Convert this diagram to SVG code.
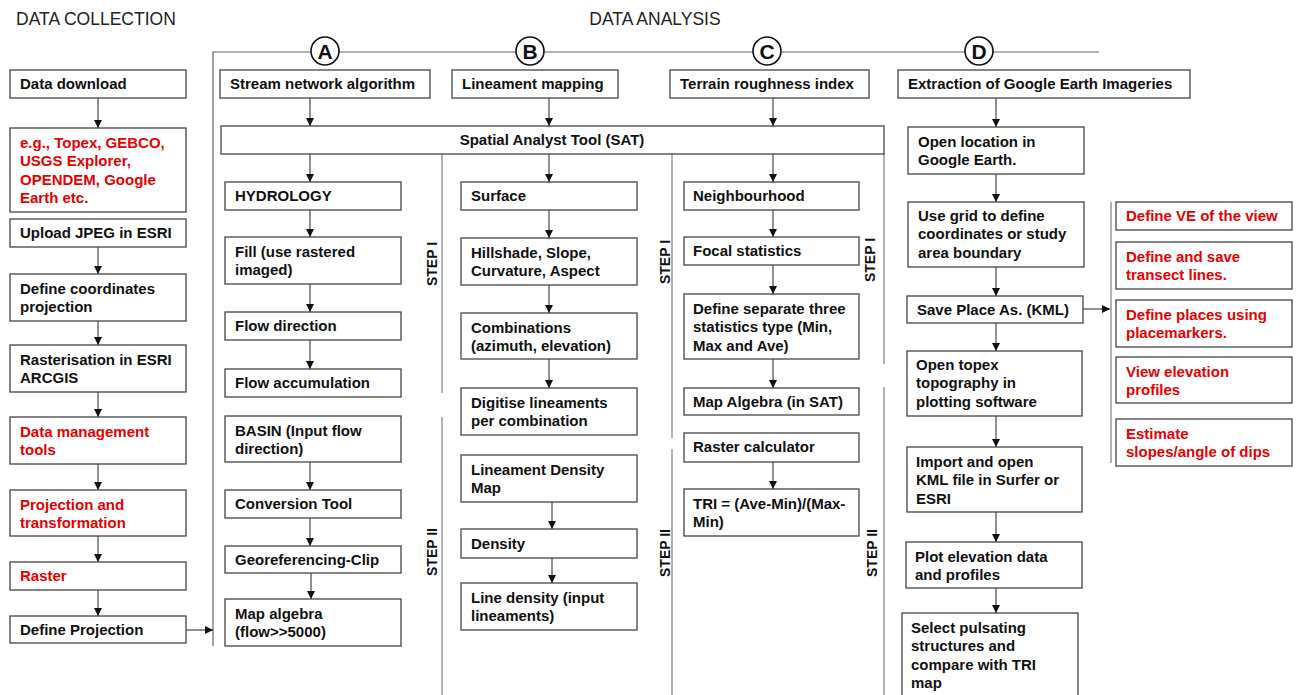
<svg xmlns="http://www.w3.org/2000/svg" width="1301" height="695" viewBox="0 0 1301 695">
<defs>
<marker id="ah" markerUnits="userSpaceOnUse" markerWidth="8" markerHeight="8" refX="8" refY="4" orient="auto">
<path d="M0,0 L8,4 L0,8 z" fill="#111"/>
</marker>
<style>
.box{fill:#fff;stroke:#444;stroke-width:1.3}
.t{font-family:"Liberation Sans",Arial,sans-serif;font-weight:bold;font-size:15px;fill:#111}
.r{fill:#e60000}
.h{font-family:"Liberation Sans",Arial,sans-serif;font-size:17.5px;fill:#222}
.a{stroke:#222;stroke-width:1;fill:none;marker-end:url(#ah)}
.dv{stroke:#999;stroke-width:1.5;fill:none}
.frame{stroke:#666;stroke-width:1.2;fill:none}
.st{font-family:"Liberation Sans",Arial,sans-serif;font-weight:bold;font-size:14px;fill:#111}
.cl{fill:#fff;stroke:#111;stroke-width:1.6}
.cll{font-family:"Liberation Sans",Arial,sans-serif;font-weight:bold;font-size:21px;fill:#111}
</style>
</defs>
<rect width="1301" height="695" fill="#fff"/>

<g id="headers">
<text class="h" x="16" y="25">DATA COLLECTION</text>
<text class="h" x="655" y="25" text-anchor="middle">DATA ANALYSIS</text>
</g>

<g id="frame">
<path class="frame" d="M213,646 L213,52 L1099,52"/>
<path class="dv" d="M442,154 V393 M442,417 V695"/>
<path class="dv" d="M672,154 V438 M672,449 V695"/>
<path class="dv" d="M884,154 V364 M884,387 V695"/>
<path class="dv" d="M1111,202 V463"/>
</g>

<g id="circles">
<circle class="cl" cx="325" cy="51" r="14"/><text class="cll" x="325" y="58.5" text-anchor="middle">A</text>
<circle class="cl" cx="530" cy="51" r="14"/><text class="cll" x="530" y="58.5" text-anchor="middle">B</text>
<circle class="cl" cx="767" cy="51" r="14"/><text class="cll" x="767" y="58.5" text-anchor="middle">C</text>
<circle class="cl" cx="979" cy="51" r="14"/><text class="cll" x="979" y="58.5" text-anchor="middle">D</text>
</g>

<g id="steps">
<text class="st" transform="translate(432,264) rotate(-90)" x="0" y="5" text-anchor="middle">STEP I</text>
<text class="st" transform="translate(432,552) rotate(-90)" x="0" y="5" text-anchor="middle">STEP II</text>
<text class="st" transform="translate(665,262) rotate(-90)" x="0" y="5" text-anchor="middle">STEP I</text>
<text class="st" transform="translate(665,553) rotate(-90)" x="0" y="5" text-anchor="middle">STEP II</text>
<text class="st" transform="translate(870,260) rotate(-90)" x="0" y="5" text-anchor="middle">STEP I</text>
<text class="st" transform="translate(872,553) rotate(-90)" x="0" y="5" text-anchor="middle">STEP II</text>
</g>

<g id="connectors">
<path class="a" d="M98,98 V128"/>
<path class="a" d="M98,247 V274"/>
<path class="a" d="M98,321 V345"/>
<path class="a" d="M98,392 V417"/>
<path class="a" d="M98,464 V490"/>
<path class="a" d="M98,536 V562"/>
<path class="a" d="M98,590 V616"/>
<path class="a" d="M186,630 H213"/>
<path class="a" d="M310,98 V126"/>
<path class="a" d="M310,154 V182"/>
<path class="a" d="M310,210 V237"/>
<path class="a" d="M310,284 V312"/>
<path class="a" d="M310,340 V369"/>
<path class="a" d="M310,462 V490"/>
<path class="a" d="M310,518 V546"/>
<path class="a" d="M311,573 V599"/>
<path class="a" d="M549,98 V126"/>
<path class="a" d="M549,154 V182"/>
<path class="a" d="M549,210 V238"/>
<path class="a" d="M549,285 V313"/>
<path class="a" d="M549,359 V388"/>
<path class="a" d="M552,502 V529"/>
<path class="a" d="M552,558 V583"/>
<path class="a" d="M773,98 V126"/>
<path class="a" d="M773,154 V182"/>
<path class="a" d="M773,210 V237"/>
<path class="a" d="M773,265 V294"/>
<path class="a" d="M773,359 V388"/>
<path class="a" d="M773,462 V489"/>
<path class="a" d="M996,98 V127"/>
<path class="a" d="M996,174 V202"/>
<path class="a" d="M996,267 V296"/>
<path class="a" d="M996,323 V351"/>
<path class="a" d="M996,416 V447"/>
<path class="a" d="M996,512 V542"/>
<path class="a" d="M996,588 V613"/>
<path class="a" d="M1083,309 H1110"/>
</g>

<!-- Data collection column -->
<g id="n-download"><rect class="box" x="10" y="70" width="176" height="28"/><text class="t" x="20" y="89">Data download</text></g>
<g id="n-sources"><rect class="box" x="10" y="128" width="176" height="84"/><text class="t r" x="20" y="148">e.g., Topex, GEBCO,<tspan x="20" dy="18.3">USGS Explorer,</tspan><tspan x="20" dy="18.3">OPENDEM, Google</tspan><tspan x="20" dy="18.3">Earth etc.</tspan></text></g>
<g id="n-upload"><rect class="box" x="10" y="219" width="176" height="28"/><text class="t" x="20" y="238">Upload JPEG in ESRI</text></g>
<g id="n-defcoord"><rect class="box" x="10" y="274" width="176" height="47"/><text class="t" x="20" y="294">Define coordinates<tspan x="20" dy="18.3">projection</tspan></text></g>
<g id="n-raster1"><rect class="box" x="10" y="345" width="176" height="47"/><text class="t" x="20" y="365">Rasterisation in ESRI<tspan x="20" dy="18.3">ARCGIS</tspan></text></g>
<g id="n-dm"><rect class="box" x="10" y="417" width="176" height="47"/><text class="t r" x="20" y="437">Data management<tspan x="20" dy="18.3">tools</tspan></text></g>
<g id="n-proj"><rect class="box" x="10" y="490" width="176" height="46"/><text class="t r" x="20" y="510">Projection and<tspan x="20" dy="18.3">transformation</tspan></text></g>
<g id="n-raster"><rect class="box" x="10" y="562" width="176" height="28"/><text class="t r" x="20" y="581">Raster</text></g>
<g id="n-defproj"><rect class="box" x="10" y="616" width="176" height="27"/><text class="t" x="20" y="635">Define Projection</text></g>

<!-- Column A -->
<g id="n-stream"><rect class="box" x="220" y="70" width="210" height="28"/><text class="t" x="230" y="89">Stream network algorithm</text></g>
<g id="n-sat"><rect class="box" x="221" y="126" width="663" height="28"/><text class="t" x="552" y="145" text-anchor="middle">Spatial Analyst Tool (SAT)</text></g>
<g id="n-hydro"><rect class="box" x="225" y="182" width="176" height="28"/><text class="t" x="235" y="201">HYDROLOGY</text></g>
<g id="n-fill"><rect class="box" x="225" y="237" width="176" height="47"/><text class="t" x="235" y="257">Fill (use rastered<tspan x="235" dy="18.3">imaged)</tspan></text></g>
<g id="n-flowdir"><rect class="box" x="225" y="312" width="176" height="28"/><text class="t" x="235" y="331">Flow direction</text></g>
<g id="n-flowacc"><rect class="box" x="225" y="369" width="176" height="28"/><text class="t" x="235" y="388">Flow accumulation</text></g>
<g id="n-basin"><rect class="box" x="225" y="416" width="176" height="46"/><text class="t" x="235" y="436">BASIN (Input flow<tspan x="235" dy="18.3">direction)</tspan></text></g>
<g id="n-conv"><rect class="box" x="225" y="490" width="176" height="28"/><text class="t" x="235" y="509">Conversion Tool</text></g>
<g id="n-geo"><rect class="box" x="225" y="546" width="176" height="27"/><text class="t" x="235" y="565">Georeferencing-Clip</text></g>
<g id="n-mapalg"><rect class="box" x="225" y="599" width="176" height="47"/><text class="t" x="235" y="619">Map algebra<tspan x="235" dy="18.3">(flow&gt;&gt;5000)</tspan></text></g>

<!-- Column B -->
<g id="n-lineament"><rect class="box" x="452" y="70" width="166" height="28"/><text class="t" x="462" y="89">Lineament mapping</text></g>
<g id="n-surface"><rect class="box" x="461" y="182" width="176" height="28"/><text class="t" x="471" y="201">Surface</text></g>
<g id="n-hill"><rect class="box" x="461" y="238" width="176" height="47"/><text class="t" x="471" y="258">Hillshade, Slope,<tspan x="471" dy="18.3">Curvature, Aspect</tspan></text></g>
<g id="n-comb"><rect class="box" x="461" y="313" width="176" height="46"/><text class="t" x="471" y="333">Combinations<tspan x="471" dy="18.3">(azimuth, elevation)</tspan></text></g>
<g id="n-digit"><rect class="box" x="461" y="388" width="176" height="47"/><text class="t" x="471" y="408">Digitise lineaments<tspan x="471" dy="18.3">per combination</tspan></text></g>
<g id="n-ldm"><rect class="box" x="461" y="455" width="176" height="47"/><text class="t" x="471" y="475">Lineament Density<tspan x="471" dy="18.3">Map</tspan></text></g>
<g id="n-density"><rect class="box" x="461" y="529" width="176" height="29"/><text class="t" x="471" y="549">Density</text></g>
<g id="n-linedens"><rect class="box" x="461" y="583" width="176" height="47"/><text class="t" x="471" y="603">Line density (input<tspan x="471" dy="18.3">lineaments)</tspan></text></g>

<!-- Column C -->
<g id="n-tri-head"><rect class="box" x="670" y="70" width="199" height="28"/><text class="t" x="680" y="89">Terrain roughness index</text></g>
<g id="n-neigh"><rect class="box" x="684" y="182" width="175" height="28"/><text class="t" x="693" y="201">Neighbourhood</text></g>
<g id="n-focal"><rect class="box" x="684" y="237" width="175" height="28"/><text class="t" x="693" y="256">Focal statistics</text></g>
<g id="n-defsep"><rect class="box" x="684" y="294" width="175" height="65"/><text class="t" x="693" y="314">Define separate three<tspan x="693" dy="18.3">statistics type (Min,</tspan><tspan x="693" dy="18.3">Max and Ave)</tspan></text></g>
<g id="n-mapalgsat"><rect class="box" x="684" y="388" width="175" height="27"/><text class="t" x="693" y="407">Map Algebra (in SAT)</text></g>
<g id="n-rastcalc"><rect class="box" x="684" y="433" width="175" height="29"/><text class="t" x="693" y="452">Raster calculator</text></g>
<g id="n-tri"><rect class="box" x="684" y="489" width="175" height="47"/><text class="t" x="693" y="509">TRI = (Ave-Min)/(Max-<tspan x="693" dy="18.3">Min)</tspan></text></g>

<!-- Column D -->
<g id="n-extract"><rect class="box" x="898" y="70" width="292" height="28"/><text class="t" x="908" y="89">Extraction of Google Earth Imageries</text></g>
<g id="n-openloc"><rect class="box" x="908" y="127" width="176" height="47"/><text class="t" x="918" y="147">Open location in<tspan x="918" dy="18.3">Google Earth.</tspan></text></g>
<g id="n-grid"><rect class="box" x="908" y="202" width="176" height="65"/><text class="t" x="918" y="221">Use grid to define<tspan x="918" dy="18.3">coordinates or study</tspan><tspan x="918" dy="18.3">area boundary</tspan></text></g>
<g id="n-save"><rect class="box" x="907" y="296" width="176" height="27"/><text class="t" x="917" y="315">Save Place As. (KML)</text></g>
<g id="n-topex"><rect class="box" x="907" y="351" width="175" height="65"/><text class="t" x="916" y="370">Open topex<tspan x="916" dy="18.3">topography in</tspan><tspan x="916" dy="18.3">plotting software</tspan></text></g>
<g id="n-import"><rect class="box" x="907" y="447" width="175" height="65"/><text class="t" x="916" y="467">Import and open<tspan x="916" dy="18.3">KML file in Surfer or</tspan><tspan x="916" dy="18.3">ESRI</tspan></text></g>
<g id="n-plot"><rect class="box" x="906" y="542" width="176" height="46"/><text class="t" x="915" y="562">Plot elevation data<tspan x="915" dy="18.3">and profiles</tspan></text></g>
<g id="n-select"><rect class="box" x="902" y="613" width="176" height="90"/><text class="t" x="911" y="633">Select pulsating<tspan x="911" dy="18.3">structures and</tspan><tspan x="911" dy="18.3">compare with TRI</tspan><tspan x="911" dy="18.3">map</tspan></text></g>

<!-- Red options -->
<g id="n-ve"><rect class="box" x="1116" y="202" width="176" height="28"/><text class="t r" x="1126" y="221">Define VE of the view</text></g>
<g id="n-transect"><rect class="box" x="1116" y="242" width="176" height="47"/><text class="t r" x="1126" y="262">Define and save<tspan x="1126" dy="18.3">transect lines.</tspan></text></g>
<g id="n-places"><rect class="box" x="1116" y="300" width="176" height="47"/><text class="t r" x="1126" y="320">Define places using<tspan x="1126" dy="18.3">placemarkers.</tspan></text></g>
<g id="n-elev"><rect class="box" x="1116" y="357" width="176" height="46"/><text class="t r" x="1126" y="377">View elevation<tspan x="1126" dy="18.3">profiles</tspan></text></g>
<g id="n-slopes"><rect class="box" x="1116" y="419" width="176" height="47"/><text class="t r" x="1126" y="439">Estimate<tspan x="1126" dy="18.3">slopes/angle of dips</tspan></text></g>
</svg>
